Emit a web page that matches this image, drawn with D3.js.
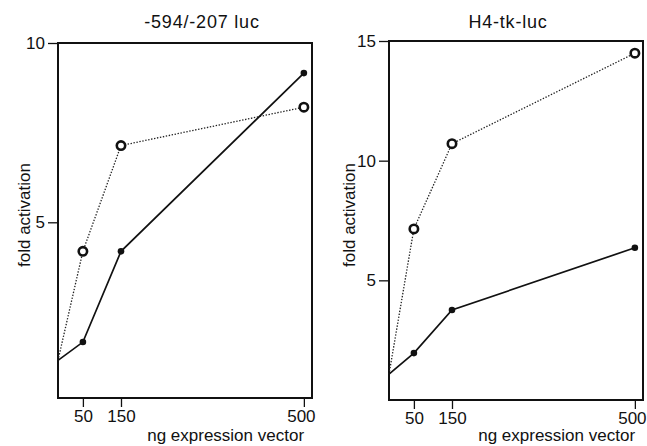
<!DOCTYPE html>
<html>
<head>
<meta charset="utf-8">
<script src="https://cdn.jsdelivr.net/npm/d3@7"></script>
<style>
  body { margin: 0; background: #fff; }
  svg { display: block; }
  text { font-family: "Liberation Sans", Arial, Helvetica, sans-serif; fill: #111; }
</style>
</head>
<body>
<div id="chart"></div>
<script>
// ng expression vector (0 = no vector, start of each line)
const doses = [0, 50, 150, 500];
const xTicks = [50, 150, 500];

// -594/-207 luc
const leftSolid = [1.15, 1.66, 4.19, 9.16];
const leftDotted = [1.15, 4.19, 7.14, 8.21];
const leftYTicks = [5, 10];

// H4-tk-luc
const rightSolid = [1.08, 1.96, 3.76, 6.36];
const rightDotted = [1.08, 7.15, 10.71, 14.49];
const rightYTicks = [5, 10, 15];

const titles = ['-594/-207 luc', 'H4-tk-luc'];

const width = 647, height = 446;

const svg = d3.select('#chart')
  .append('svg')
  .attr('width', width)
  .attr('height', height);

// panel frames and axis settings
const panels = [
  { left: 58, top: 43, w: 254, h: 355, yDomain: [0.1, 10], yTicks: leftYTicks,
    solid: leftSolid, dotted: leftDotted, title: titles[0], titleX: 202, yLabelX: 30 },
  { left: 389, top: 41, w: 254, h: 359, yDomain: [0, 15], yTicks: rightYTicks,
    solid: rightSolid, dotted: rightDotted, title: titles[1], titleX: 508, yLabelX: 355 }
];

panels.forEach((p) => {
  const g = svg.append('g')
    .attr('transform', 'translate(' + p.left + ',' + p.top + ')');

  // the printed dose axis is not evenly spaced, so use a piecewise scale
  const xScale = d3.scaleLinear()
    .domain([0, 50, 150, 500, 516])
    .range([0, 0.098, 0.248, 0.968, 1].map(f => f * p.w));

  const yScale = d3.scaleLinear()
    .domain(p.yDomain)
    .range([p.h, 0]);

  // frame
  g.append('rect')
    .attr('width', p.w)
    .attr('height', p.h)
    .attr('fill', 'none')
    .attr('stroke', '#111')
    .attr('stroke-width', 2);

  // y axis
  const yAxis = g.append('g')
    .call(d3.axisLeft(yScale).tickValues(p.yTicks).tickSize(10).tickPadding(3));
  yAxis.select('.domain').remove();
  yAxis.selectAll('line').attr('stroke', '#111').attr('stroke-width', 1.3);
  yAxis.selectAll('text').style('font-size', '17px').attr('fill', '#111');

  // x axis
  const xAxis = g.append('g')
    .attr('transform', 'translate(0,' + p.h + ')')
    .call(d3.axisBottom(xScale).tickValues(xTicks).tickSize(9).tickPadding(3));
  xAxis.select('.domain').remove();
  xAxis.selectAll('line').attr('stroke', '#111').attr('stroke-width', 1.3);
  xAxis.selectAll('text')
    .style('font-size', '17px')
    .attr('fill', '#111')
    .attr('dx', d => d === 500 ? -3 : 0);

  const line = d3.line()
    .x((d, i) => xScale(doses[i]))
    .y(d => yScale(d));

  // dotted series with open circles
  g.append('path')
    .datum(p.dotted)
    .attr('d', line)
    .attr('fill', 'none')
    .attr('stroke', '#222')
    .attr('stroke-width', 1.3)
    .attr('stroke-dasharray', '1.4,1.6');

  // solid series with filled dots
  g.append('path')
    .datum(p.solid)
    .attr('d', line)
    .attr('fill', 'none')
    .attr('stroke', '#111')
    .attr('stroke-width', 1.7);

  g.selectAll('.dot')
    .data(p.solid.slice(1))
    .enter()
    .append('circle')
      .attr('class', 'dot')
      .attr('cx', (d, i) => xScale(doses[i + 1]))
      .attr('cy', d => yScale(d))
      .attr('r', 3.3)
      .attr('fill', '#111');

  g.selectAll('.ring')
    .data(p.dotted.slice(1))
    .enter()
    .append('circle')
      .attr('class', 'ring')
      .attr('cx', (d, i) => xScale(doses[i + 1]))
      .attr('cy', d => yScale(d))
      .attr('r', 4.2)
      .attr('fill', '#fff')
      .attr('stroke', '#111')
      .attr('stroke-width', 2.6);

  // title
  svg.append('text')
    .attr('x', p.titleX)
    .attr('y', 28)
    .attr('text-anchor', 'middle')
    .style('font-size', '18px')
    .style('letter-spacing', '0.8px')
    .text(p.title);

  // x label
  svg.append('text')
    .attr('x', p.left + p.w * 0.66)
    .attr('y', 441)
    .attr('text-anchor', 'middle')
    .style('font-size', '17px')
    .text('ng expression vector');

  // y label
  svg.append('text')
    .attr('transform', 'translate(' + p.yLabelX + ',215) rotate(-90)')
    .attr('text-anchor', 'middle')
    .style('font-size', '17px')
    .text('fold activation');
});
</script>
</body>
</html>
